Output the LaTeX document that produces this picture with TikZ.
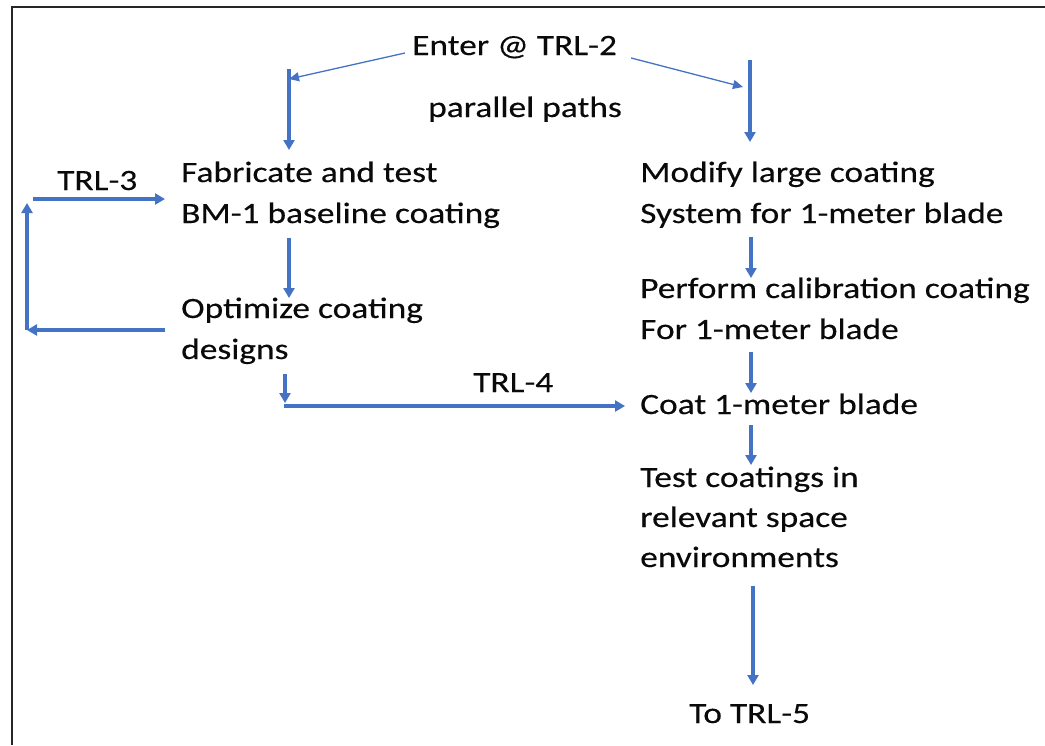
\documentclass[tikz,border=0pt]{standalone}
\usepackage{fontspec}
\setmainfont[FakeStretch=1.2,FakeBold=0.3]{Carlito}
\usetikzlibrary{arrows.meta}
\definecolor{flow}{HTML}{4472C4}
\definecolor{ink}{HTML}{0A0A0A}
\begin{document}
\begin{tikzpicture}[x=1pt,y=-1pt,
  lbl/.style={inner sep=0pt, anchor=base west, align=left, text=ink,
              font=\fontsize{29.5}{41}\selectfont},
  flowarr/.style={draw=flow, line width=3.2pt,
              -{Triangle[length=10pt,width=11pt]}},
  thinarr/.style={draw=flow, line width=1.3pt,
              -{Triangle[length=10pt,width=9pt]}},
  frame/.style={draw=black!85, line width=2pt}]
\useasboundingbox (0,0) rectangle (1045,745);
\fill[white] (0,0) rectangle (1045,745);
\draw[frame] (12,745) -- (12,7) -- (1045,7);

% labels (multi-line labels are placed by the baseline of their last line)
\node[lbl] (enter) at (412,55)  {Enter @ TRL-2};
\node[lbl] (par)   at (428,117) {parallel paths};
\node[lbl] (fab)   at (181,223) {Fabricate and test\\BM-1 baseline coating};
\node[lbl] (opt)   at (181,359) {Optimize coating\\designs};
\node[lbl] (trl3)  at (57,190)  {TRL-3};
\node[lbl] (mod)   at (640,223) {Modify large coating\\System for 1-meter blade};
\node[lbl] (perf)  at (640,339) {Perform calibration coating\\For 1-meter blade};
\node[lbl] (trl4)  at (473,392) {TRL-4};
\node[lbl] (coat)  at (640,414) {Coat 1-meter blade};
\node[lbl, font=\fontsize{29.5}{40}\selectfont] (test) at (640,567)
      {Test coatings in\\relevant space\\environments};
\node[lbl] (trl5)  at (689,723) {To TRL-5};

% fork points of the two parallel paths
\coordinate (forkL) at (289,69);
\coordinate (forkR) at (750,60);
\coordinate (loopL) at (27,330);

% split from the entry point
\draw[thinarr] ([shift={(-7,-2)}]enter.base west) -- (forkL |- 0,79);
\draw[thinarr] ([shift={(14,3)}]enter.base east) -- ([xshift=-7pt]forkR |- 0,87);
\draw[flowarr] (forkL) -- (forkL |- 0,150);
\draw[flowarr] (forkR) -- (forkR |- 0,142);

% left path with the TRL-3 loop
\draw[flowarr] (forkL |- 0,238) -- (forkL |- 0,298);
\draw[flowarr] ([xshift=-16pt]opt.west |- 0,330) -- (loopL);
\draw[flowarr] (loopL) -- (loopL |- 0,203);
\draw[flowarr] (33,199) -- ([xshift=-16pt]fab.west |- 0,199);
\draw[flowarr] (285,374) -- (285,403);
\draw[flowarr] (284,406) -- ([xshift=-15pt]coat.west |- 0,406);

% right path
\draw[flowarr] (751,237) -- (751,278);
\draw[flowarr] (751,352) -- (751,393);
\draw[flowarr] (751,425) -- (751,465);
\draw[flowarr] (753,586) -- (753,685);
\end{tikzpicture}
\end{document}
